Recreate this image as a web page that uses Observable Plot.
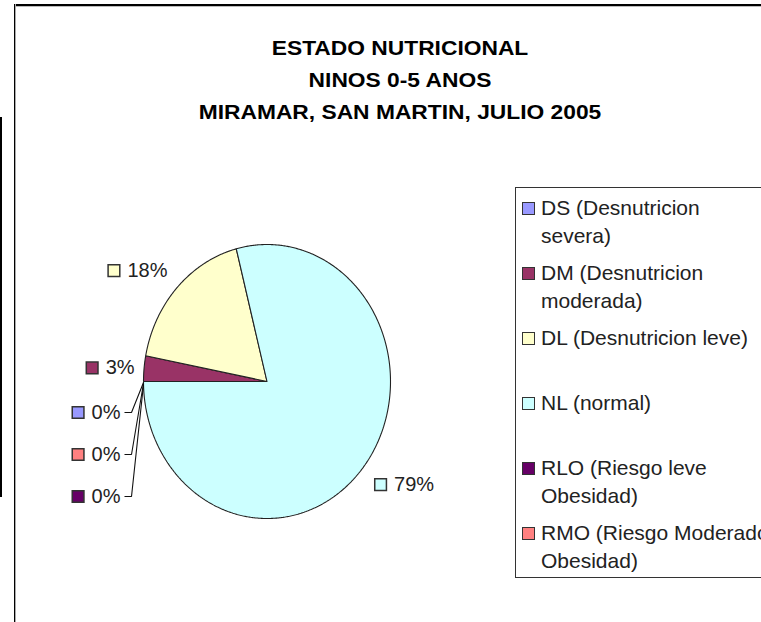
<!DOCTYPE html>
<html>
<head>
<meta charset="utf-8">
<script src="https://cdn.jsdelivr.net/npm/d3@7"></script>
<script src="https://cdn.jsdelivr.net/npm/@observablehq/plot@0.6"></script>
<style>
html, body { margin: 0; padding: 0; background: #fff; overflow: hidden; }
#wrap { position: relative; width: 761px; height: 622px; overflow: hidden; font-family: "Liberation Sans", Arial, sans-serif; background: #fff; }
#wrap svg { position: absolute; left: 0; top: 0; }
.frame-top { position: absolute; left: 14px; top: 4px; width: 760px; height: 2px; background: #000; border-bottom: 1px solid #bbb; }
.frame-left { position: absolute; left: 14px; top: 4px; width: 1px; height: 630px; background: #000; border-right: 1px solid #aaa; }
.side-bar { position: absolute; left: 0; top: 117px; width: 2px; height: 380px; background: #000; }
.title { position: absolute; left: 0; width: 800px; text-align: center; font-weight: bold; font-size: 21px; line-height: 21px; color: #000; white-space: nowrap; transform: scaleX(1.085); transform-origin: 400px 50%; }
.legend { position: absolute; left: 515px; top: 187px; width: 280px; height: 389px; border: 1px solid #333; background: #fff; }
.litem { position: absolute; left: 25px; font-size: 21px; line-height: 28.5px; color: #222; white-space: pre; }
.lsw { position: absolute; left: 6px; width: 11px; height: 11px; border: 1px solid #333; }
</style>
</head>
<body>
<div id="wrap"></div>
<script>
// ---- data ----
const categories = ["DS", "DM", "DL", "NL", "RLO", "RMO"];
const legendLabels = [
  "DS (Desnutricion\nsevera)",
  "DM (Desnutricion\nmoderada)",
  "DL (Desnutricion leve)",
  "NL (normal)",
  "RLO (Riesgo leve\nObesidad)",
  "RMO (Riesgo Moderado\nObesidad)"
];
const percents = [0, 3, 18, 79, 0, 0];
const colors = ["#9999FF", "#993366", "#FFFFCC", "#CCFFFF", "#660066", "#FF8080"];
const titleLines = ["ESTADO NUTRICIONAL", "NINOS 0-5 ANOS", "MIRAMAR, SAN MARTIN, JULIO 2005"];

// ---- layout constants ----
const W = 761, H = 622;
const cx = 266.5, cy = 381, rx = 123.5, ry = 137;
const startAngle = 270; // degrees clockwise from 12 o'clock
const labelFont = "20px 'Liberation Sans', Arial, sans-serif";

const sx = d3.scaleLinear([-1, 1], [cx - rx, cx + rx]);
const sy = d3.scaleLinear([-1, 1], [cy + ry, cy - ry]);

const total = d3.sum(percents);
let acc = startAngle;
const slices = categories.map((k, i) => {
  const a0 = acc;
  const a1 = acc + percents[i] / total * 360;
  acc = a1;
  return {key: k, value: percents[i], color: colors[i], a0, a1, index: i};
});

const rad = a => a * Math.PI / 180;
// polygon points for slices
const piePts = [];
for (const s of slices) {
  if (s.value <= 0) continue;
  piePts.push({key: s.key, color: s.color, x: 0, y: 0});
  const n = Math.max(2, Math.ceil((s.a1 - s.a0) / 0.5));
  for (let j = 0; j <= n; j++) {
    const a = rad(s.a0 + (s.a1 - s.a0) * j / n);
    piePts.push({key: s.key, color: s.color, x: Math.sin(a), y: Math.cos(a)});
  }
  piePts.push({key: s.key, color: s.color, x: 0, y: 0});
}

// label measuring
const ctx = document.createElement("canvas").getContext("2d");
ctx.font = labelFont;
const tw = t => ctx.measureText(t).width;

const labels = [];
const leaders = [];
const zeroStart = slices.filter((s, i) => s.value === 0 && slices.slice(0, i).every(p => p.value === 0));
const zeroEnd = slices.filter(s => s.value === 0 && !zeroStart.includes(s)).reverse();
const zeros = zeroStart.concat(zeroEnd);

slices.forEach(s => {
  const text = Math.round(s.value) + "%";
  const w = 20 + tw(text);
  if (s.value > 0) {
    const m = rad((s.a0 + s.a1) / 2);
    const ex = cx + rx * Math.sin(m), ey = cy - ry * Math.cos(m);
    const dx = Math.sin(m), dy = -Math.cos(m);
    const gx = ex + Math.sign(dx) * (w / 2 + 9.5);
    const gy = ey + dy * 28 + 2;
    const left = gx - w / 2;
    labels.push({text, color: s.color, sx: left + 6.5, tx: left + 20, y: gy});
  }
});
zeros.forEach((s, k) => {
  const text = "0%";
  const w = 20 + tw(text);
  const a = rad(s.a0);
  const ex = cx + rx * Math.sin(a), ey = cy - ry * Math.cos(a);
  const right = ex - 23;
  const gy = ey + 31 + k * 42;
  const left = right - w;
  labels.push({text, color: s.color, sx: left + 6.5, tx: left + 20, y: gy});
  leaders.push({key: s.key, x: sx.invert(right + 4), y: sy.invert(gy)});
  leaders.push({key: s.key, x: sx.invert(right + 11), y: sy.invert(gy)});
  leaders.push({key: s.key, x: sx.invert(ex), y: sy.invert(ey + 1 + k)});
});

const plot = Plot.plot({
  width: W,
  height: H,
  margin: 0,
  x: {domain: [-1, 1], range: [cx - rx, cx + rx], axis: null},
  y: {domain: [-1, 1], range: [cy + ry, cy - ry], axis: null},
  style: {background: "transparent", overflow: "visible"},
  marks: [
    Plot.line(piePts, {x: "x", y: "y", z: "key", fill: "color", stroke: "#222", strokeWidth: 1.1, strokeLinejoin: "miter", curve: "linear"}),
    Plot.line(leaders, {x: "x", y: "y", z: "key", stroke: "#111", strokeWidth: 1.1, strokeLinejoin: "miter", strokeLinecap: "butt"}),
    Plot.dot(labels, {x: d => sx.invert(d.sx), y: d => sy.invert(d.y), symbol: "square", r: 6.6, fill: "color", stroke: "#333", strokeWidth: 1.5}),
    Plot.text(labels, {x: d => sx.invert(d.tx), y: d => sy.invert(d.y), text: "text", textAnchor: "start", fontSize: 20, fontFamily: "'Liberation Sans', Arial, sans-serif", fill: "#222"})
  ]
});

const wrap = document.getElementById("wrap");
wrap.appendChild(plot);

// frame
for (const c of ["frame-top", "frame-left", "side-bar"]) {
  const d = document.createElement("div"); d.className = c; wrap.appendChild(d);
}
// title
const titleCenters = [47, 79, 111];
titleLines.forEach((t, i) => {
  const d = document.createElement("div");
  d.className = "title";
  d.style.top = (titleCenters[i] - 10.5) + "px";
  d.textContent = t;
  wrap.appendChild(d);
});
// legend
const lg = document.createElement("div");
lg.className = "legend";
wrap.appendChild(lg);
legendLabels.forEach((t, i) => {
  const c = 208 + i * 65 - 188;
  const sw = document.createElement("div");
  sw.className = "lsw";
  sw.style.top = (c - 6.5) + "px";
  sw.style.background = colors[i];
  lg.appendChild(sw);
  const it = document.createElement("div");
  it.className = "litem";
  it.style.top = (c - 14.25) + "px";
  it.textContent = t;
  lg.appendChild(it);
});
</script>
</body>
</html>
